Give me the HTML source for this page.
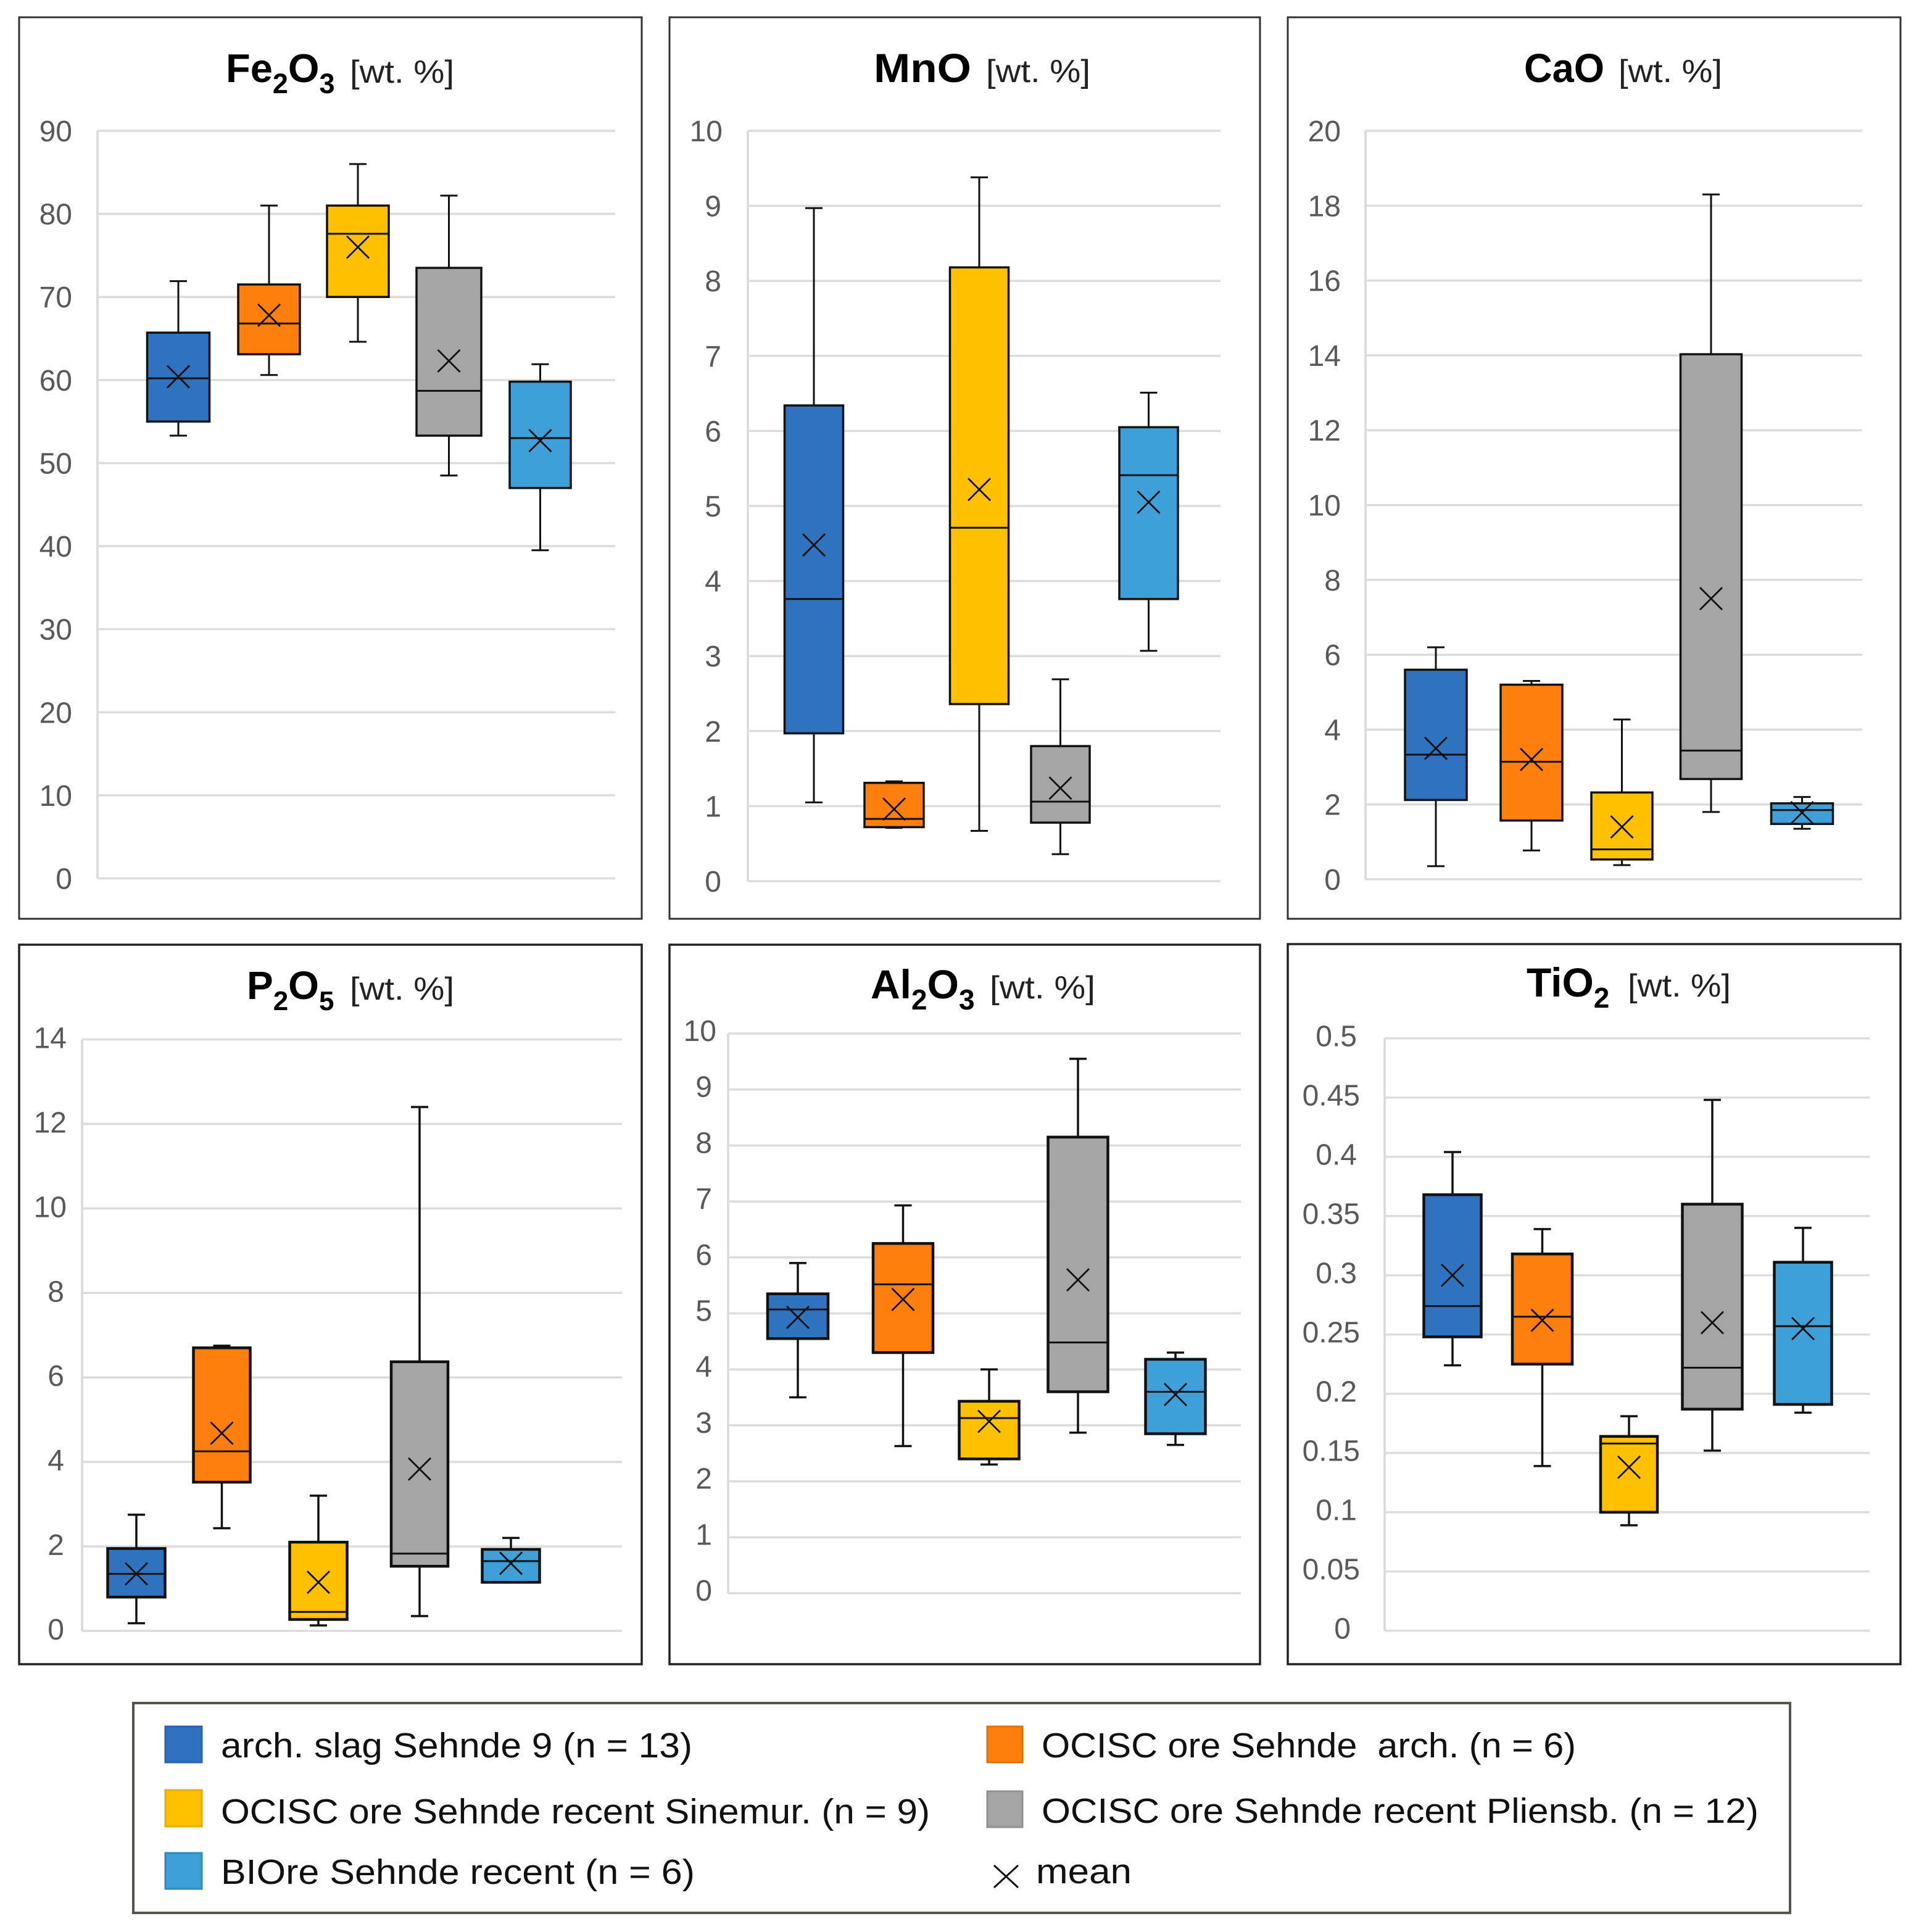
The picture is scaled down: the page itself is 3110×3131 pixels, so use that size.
<!DOCTYPE html>
<html lang="en">
<head>
<meta charset="utf-8">
<title>Box plots of oxide contents, Sehnde samples</title>
<style>
html,body{margin:0;padding:0;background:#fff}
svg{display:block}
text{font-family:"Liberation Sans",sans-serif}
</style>
</head>
<body>
<svg id="figure" xmlns="http://www.w3.org/2000/svg" width="3110" height="3131" viewBox="0 0 3110 3131">
<rect x="0" y="0" width="3110" height="3131" fill="#fff"/>

<g id="panel-fe2o3">
<rect x="31" y="28" width="1009" height="1461" fill="#fff" stroke="#333" stroke-width="3"/>
<text x="366" y="133" font-size="65" font-weight="700" fill="#000">Fe<tspan dy="18" font-size="45">2</tspan><tspan dy="-18">O</tspan><tspan dy="18" font-size="45">3</tspan></text>
<text x="567" y="134" font-size="52" textLength="169" lengthAdjust="spacingAndGlyphs" fill="#222">[wt. %]</text>
</g>

<g id="panel-mno">
<rect x="1085" y="28" width="957" height="1461" fill="#fff" stroke="#333" stroke-width="3"/>
<text x="1416" y="133" font-size="66" font-weight="700" textLength="158" lengthAdjust="spacingAndGlyphs" fill="#000">MnO</text>
<text x="1598" y="133" font-size="52" textLength="169" lengthAdjust="spacingAndGlyphs" fill="#222">[wt. %]</text>
</g>

<g id="panel-cao">
<rect x="2087" y="28" width="993" height="1461" fill="#fff" stroke="#333" stroke-width="3"/>
<text x="2470" y="133" font-size="66" font-weight="700" textLength="130" lengthAdjust="spacingAndGlyphs" fill="#000">CaO</text>
<text x="2623" y="133" font-size="52" textLength="168" lengthAdjust="spacingAndGlyphs" fill="#222">[wt. %]</text>
</g>

<g id="panel-p2o5">
<rect x="31" y="1531" width="1009" height="1166" fill="#fff" stroke="#222" stroke-width="3.5"/>
<text x="400" y="1619" font-size="64" font-weight="700" fill="#000">P<tspan dy="18" font-size="44">2</tspan><tspan dy="-18">O</tspan><tspan dy="18" font-size="44">5</tspan></text>
<text x="567" y="1620" font-size="52" textLength="169" lengthAdjust="spacingAndGlyphs" fill="#222">[wt. %]</text>
</g>

<g id="panel-al2o3">
<rect x="1085" y="1531" width="957" height="1166" fill="#fff" stroke="#222" stroke-width="3.5"/>
<text x="1411" y="1618" font-size="66" font-weight="700" fill="#000">Al<tspan dy="18" font-size="46">2</tspan><tspan dy="-18">O</tspan><tspan dy="18" font-size="46">3</tspan></text>
<text x="1604" y="1618" font-size="52" textLength="171" lengthAdjust="spacingAndGlyphs" fill="#222">[wt. %]</text>
</g>

<g id="panel-tio2">
<rect x="2087" y="1530" width="993" height="1167" fill="#fff" stroke="#222" stroke-width="3.5"/>
<text x="2474" y="1615" font-size="66" font-weight="700" fill="#000">TiO<tspan dy="18" font-size="46">2</tspan></text>
<text x="2638" y="1615" font-size="52" textLength="167" lengthAdjust="spacingAndGlyphs" fill="#222">[wt. %]</text>
</g>

<g id="legend">
<rect x="216" y="2760" width="2685" height="340" fill="#fff" stroke="#55554c" stroke-width="4"/>
<g>
<rect x="268" y="2798" width="59" height="58" fill="#2F72BE" stroke="#2a62ad" stroke-width="3"/>
<text x="358" y="2848" font-size="57" textLength="764" lengthAdjust="spacingAndGlyphs" fill="#111">arch. slag Sehnde 9 (n = 13)</text>
</g>
<g>
<rect x="1600" y="2798" width="57" height="58" fill="#FF7F0C" stroke="#e0700a" stroke-width="3"/>
<text x="1688" y="2848" font-size="57" textLength="866" lengthAdjust="spacingAndGlyphs" xml:space="preserve" fill="#111">OCISC ore Sehnde  arch. (n = 6)</text>
</g>
<g>
<rect x="268" y="2901" width="59" height="59" fill="#FFC000" stroke="#e8ad05" stroke-width="3"/>
<text x="358" y="2955" font-size="57" textLength="1149" lengthAdjust="spacingAndGlyphs" fill="#111">OCISC ore Sehnde recent Sinemur. (n = 9)</text>
</g>
<g>
<rect x="1600" y="2903" width="57" height="58" fill="#A5A5A5" stroke="#909090" stroke-width="3"/>
<text x="1688" y="2954" font-size="57" textLength="1162" lengthAdjust="spacingAndGlyphs" fill="#111">OCISC ore Sehnde recent Pliensb. (n = 12)</text>
</g>
<g>
<rect x="268" y="3003" width="59" height="58" fill="#3F9FD8" stroke="#2f88bd" stroke-width="3"/>
<text x="358" y="3053" font-size="57" textLength="768" lengthAdjust="spacingAndGlyphs" fill="#111">BIOre Sehnde recent (n = 6)</text>
</g>
<g>
<path d="M1611 3023L1650 3059M1650 3023L1611 3059" fill="none" stroke="#111" stroke-width="3"/>
<text x="1679" y="3052" font-size="57" textLength="155" lengthAdjust="spacingAndGlyphs" fill="#111">mean</text>
</g>
</g>
</svg>

<script>
// Series order in every panel
const seriesNames = ['arch-slag', 'ocisc-arch', 'ocisc-sinemur', 'ocisc-pliensb', 'biore'];
const seriesColors = ['#2F72BE', '#FF7F0C', '#FFC000', '#A5A5A5', '#3F9FD8'];

// Fe2O3
const fe2o3Ticks = [0, 10, 20, 30, 40, 50, 60, 70, 80, 90];
const fe2o3High = [71.9, 81, 86, 82.2, 61.9];
const fe2o3Q3 = [65.7, 71.5, 81, 73.5, 59.8];
const fe2o3Median = [60.2, 66.8, 77.6, 58.7, 53];
const fe2o3Q1 = [55, 63.1, 70, 53.3, 47];
const fe2o3Low = [53.3, 60.6, 64.6, 48.5, 39.5];
const fe2o3Mean = [60.4, 67.8, 76, 62.3, 52.7];

// MnO
const mnoTicks = [0, 1, 2, 3, 4, 5, 6, 7, 8, 9, 10];
const mnoHigh = [8.97, 1.33, 9.38, 2.69, 6.51];
const mnoQ3 = [6.34, 1.31, 8.18, 1.8, 6.05];
const mnoMedian = [3.76, 0.83, 4.71, 1.06, 5.41];
const mnoQ1 = [1.97, 0.72, 2.36, 0.78, 3.76];
const mnoLow = [1.05, 0.71, 0.67, 0.36, 3.07];
const mnoMean = [4.48, 0.96, 5.22, 1.24, 5.05];

// CaO
const caoTicks = [0, 2, 4, 6, 8, 10, 12, 14, 16, 18, 20];
const caoHigh = [6.2, 5.3, 4.27, 18.3, 2.2];
const caoQ3 = [5.6, 5.2, 2.32, 14.03, 2.03];
const caoMedian = [3.33, 3.14, 0.8, 3.44, 1.85];
const caoQ1 = [2.12, 1.57, 0.53, 2.68, 1.48];
const caoLow = [0.35, 0.77, 0.38, 1.8, 1.35];
const caoMean = [3.5, 3.2, 1.4, 7.5, 1.78];

// P2O5
const p2o5Ticks = [0, 2, 4, 6, 8, 10, 12, 14];
const p2o5High = [2.75, 6.75, 3.2, 12.4, 2.2];
const p2o5Q3 = [1.95, 6.7, 2.1, 6.37, 1.93];
const p2o5Median = [1.35, 4.25, 0.45, 1.83, 1.65];
const p2o5Q1 = [0.8, 3.52, 0.27, 1.53, 1.15];
const p2o5Low = [0.18, 2.43, 0.13, 0.35, 1.15];
const p2o5Mean = [1.35, 4.68, 1.15, 3.83, 1.6];

// Al2O3
const al2o3Ticks = [0, 1, 2, 3, 4, 5, 6, 7, 8, 9, 10];
const al2o3High = [5.9, 6.93, 4.0, 9.55, 4.3];
const al2o3Q3 = [5.35, 6.25, 3.43, 8.15, 4.18];
const al2o3Median = [5.07, 5.52, 3.13, 4.48, 3.6];
const al2o3Q1 = [4.55, 4.3, 2.4, 3.6, 2.85];
const al2o3Low = [3.5, 2.63, 2.3, 2.87, 2.65];
const al2o3Mean = [4.93, 5.25, 3.07, 5.6, 3.55];

// TiO2
const tio2Ticks = [0, 0.05, 0.1, 0.15, 0.2, 0.25, 0.3, 0.35, 0.4, 0.45, 0.5];
const tio2High = [0.404, 0.339, 0.181, 0.448, 0.34];
const tio2Q3 = [0.368, 0.318, 0.164, 0.36, 0.311];
const tio2Median = [0.274, 0.265, 0.158, 0.222, 0.257];
const tio2Q1 = [0.248, 0.225, 0.1, 0.187, 0.191];
const tio2Low = [0.224, 0.139, 0.089, 0.152, 0.184];
const tio2Mean = [0.3, 0.262, 0.138, 0.26, 0.255];

const panels = [
  { key: 'fe2o3', ticks: fe2o3Ticks, high: fe2o3High, q3: fe2o3Q3, median: fe2o3Median, q1: fe2o3Q1, low: fe2o3Low, mean: fe2o3Mean,
    left: 158, right: 997, top: 212, bottom: 1423.5, first: 289, step: 147, nudge: [0, 0, -3, -2.5, -1.5], boxW: [101, 100, 100, 105, 99],
    labelX: 117, labelInset: 0, labelDy: 17, boxStroke: 3.5, lineStroke: 3 },
  { key: 'mno', ticks: mnoTicks, high: mnoHigh, q3: mnoQ3, median: mnoMedian, q1: mnoQ1, low: mnoLow, mean: mnoMean,
    left: 1212, right: 1978, top: 212, bottom: 1428, first: 1319, step: 136, nudge: [0, -6, -4, -8.5, -1.5], boxW: [95, 96, 95, 95, 95],
    labelX: 1171, labelInset: 2, labelDy: 17, boxStroke: 3.5, lineStroke: 3 },
  { key: 'cao', ticks: caoTicks, high: caoHigh, q3: caoQ3, median: caoMedian, q1: caoQ1, low: caoLow, mean: caoMean,
    left: 2213, right: 3018, top: 212, bottom: 1425, first: 2327, step: 148, nudge: [0, 7, 5.5, 2, 1.5], boxW: [100, 100, 99, 99, 100],
    labelX: 2173, labelInset: 0, labelDy: 17, boxStroke: 3.5, lineStroke: 3 },
  { key: 'p2o5', ticks: p2o5Ticks, high: p2o5High, q3: p2o5Q3, median: p2o5Median, q1: p2o5Q1, low: p2o5Low, mean: p2o5Mean,
    left: 133, right: 1008, top: 1684.5, bottom: 2643, first: 221, step: 152, nudge: [0, -13.5, -9, 3, -1], boxW: [93, 92, 93, 92, 93],
    labelX: 108, labelInset: 4, labelDy: 14, boxStroke: 4.5, lineStroke: 3.5 },
  { key: 'al2o3', ticks: al2o3Ticks, high: al2o3High, q3: al2o3Q3, median: al2o3Median, q1: al2o3Q1, low: al2o3Low, mean: al2o3Mean,
    left: 1180, right: 2011, top: 1675, bottom: 2582, first: 1293, step: 153, nudge: [0, 17.5, 4, -5, 0], boxW: [98, 97, 97, 97, 97],
    labelX: 1161, labelInset: 7, labelDy: 12, boxStroke: 4.5, lineStroke: 3.5 },
  { key: 'tio2', ticks: tio2Ticks, high: tio2High, q3: tio2Q3, median: tio2Median, q1: tio2Q1, low: tio2Low, mean: tio2Mean,
    left: 2244, right: 3030, top: 1682.7, bottom: 2642.7, first: 2354, step: 142, nudge: [0, 3.5, 2, -5, 0], boxW: [93, 97, 92, 97, 93],
    labelX: 2204, labelInset: 5, labelDy: 13, boxStroke: 4.5, lineStroke: 3.5 }
];

const SVG_NS = 'http://www.w3.org/2000/svg';

function makeEl(tag, attrs, parent) {
  const el = document.createElementNS(SVG_NS, tag);
  for (const k in attrs) el.setAttribute(k, attrs[k]);
  parent.appendChild(el);
  return el;
}

function drawPanel(p) {
  const g = document.getElementById('panel-' + p.key);
  const maxTick = p.ticks[p.ticks.length - 1];
  const maxLabelLen = Math.max.apply(null, p.ticks.map(t => String(t).length));
  const yScale = v => p.bottom - (v / maxTick) * (p.bottom - p.top);
  const xScale = i => p.first + i * p.step + p.nudge[i];

  const yAxis = makeEl('line', { x1: p.left, x2: p.left, y1: p.top, y2: p.bottom, stroke: '#d9d9d9', 'stroke-width': 3.5 }, g);
  
  

  p.ticks.forEach(t => {
    const y = yScale(t);
    const grid = makeEl('line', { x1: p.left, x2: p.right, y1: y, y2: y, stroke: '#dcdcdc', 'stroke-width': 3.5 }, g);
    
    
    const text = String(t);
    const label = makeEl('text', { x: p.labelX - (maxLabelLen - text.length) * p.labelInset, y: y + p.labelDy, 'text-anchor': 'end', 'font-size': 48, fill: '#595959' }, g);
    
    
    label.textContent = text;
  });

  seriesNames.forEach((name, i) => {
    const cx = xScale(i);
    const half = p.boxW[i] / 2;
    const cap = 14;
    const stroke = '#111';
    const base = p.key + '-' + name;

    const whiskerHigh = makeEl('line', { x1: cx, x2: cx, y1: yScale(p.high[i]), y2: yScale(p.q3[i]), stroke: stroke, 'stroke-width': p.lineStroke }, g);
    
    

    const capHigh = makeEl('line', { x1: cx - cap, x2: cx + cap, y1: yScale(p.high[i]), y2: yScale(p.high[i]), stroke: stroke, 'stroke-width': p.lineStroke }, g);
    
    

    const whiskerLow = makeEl('line', { x1: cx, x2: cx, y1: yScale(p.q1[i]), y2: yScale(p.low[i]), stroke: stroke, 'stroke-width': p.lineStroke }, g);
    
    

    const capLow = makeEl('line', { x1: cx - cap, x2: cx + cap, y1: yScale(p.low[i]), y2: yScale(p.low[i]), stroke: stroke, 'stroke-width': p.lineStroke }, g);
    
    

    const box = makeEl('rect', { x: cx - half, y: yScale(p.q3[i]), width: p.boxW[i], height: yScale(p.q1[i]) - yScale(p.q3[i]), fill: seriesColors[i], stroke: stroke, 'stroke-width': p.boxStroke }, g);
    
    

    const median = makeEl('line', { x1: cx - half, x2: cx + half, y1: yScale(p.median[i]), y2: yScale(p.median[i]), stroke: stroke, 'stroke-width': 3 }, g);
    
    

    const my = yScale(p.mean[i]);
    const mean = makeEl('path', { d: 'M' + (cx - 18) + ' ' + (my - 18) + 'L' + (cx + 18) + ' ' + (my + 18) + 'M' + (cx + 18) + ' ' + (my - 18) + 'L' + (cx - 18) + ' ' + (my + 18), fill: 'none', stroke: stroke, 'stroke-width': 2.8 }, g);
    
    
  });
}

panels.forEach(drawPanel);
</script>
</body>
</html>
